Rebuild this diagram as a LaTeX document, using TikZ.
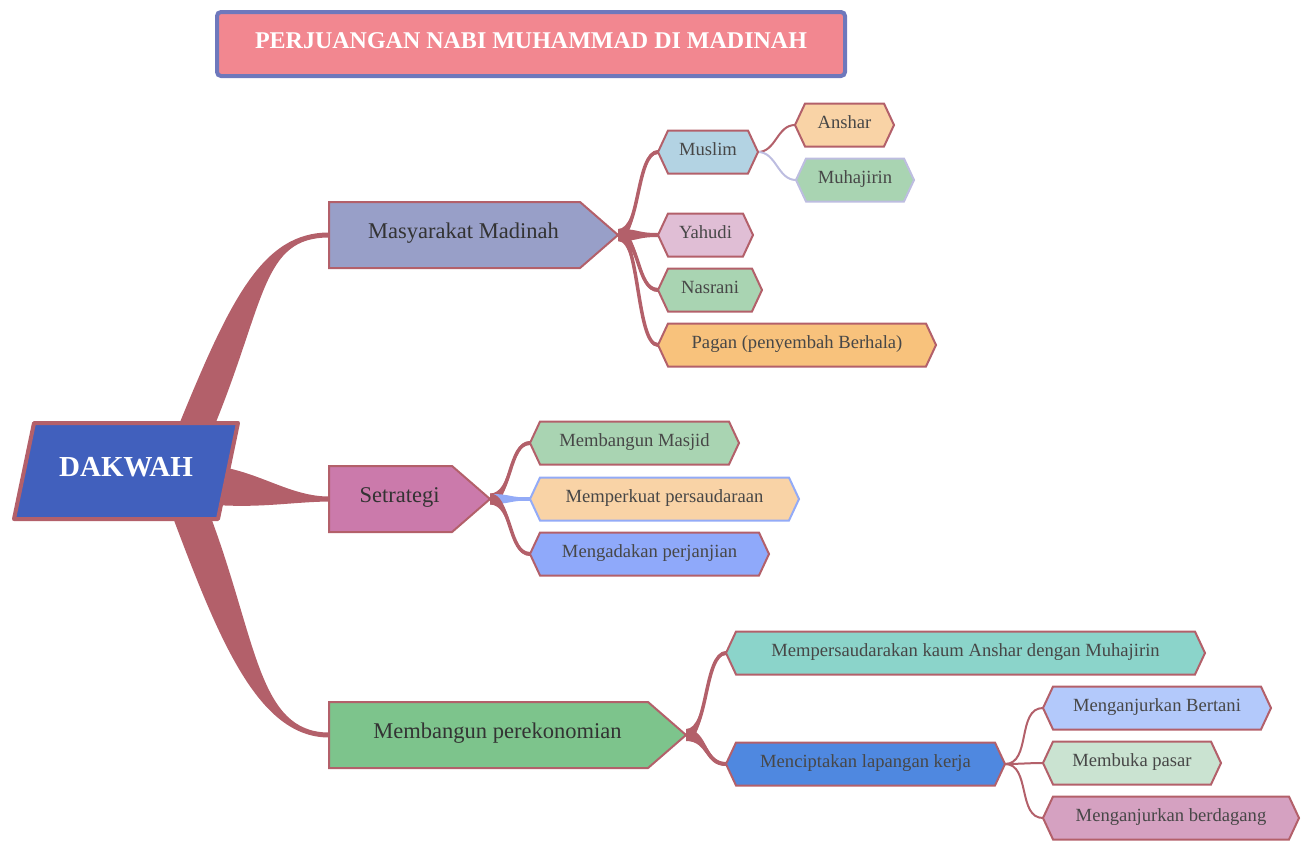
\documentclass[tikz,border=0pt]{standalone}
\usepackage{fontspec}
\setmainfont{Liberation Serif}
\usetikzlibrary{shapes,calc,backgrounds}

\definecolor{linkred}{HTML}{B3606A}
\definecolor{titlefill}{HTML}{F28790}
\definecolor{titleline}{HTML}{6E78BC}
\definecolor{rootfill}{HTML}{4160BD}
\definecolor{masyfill}{HTML}{989FC8}
\definecolor{stratfill}{HTML}{CB7AAB}
\definecolor{ekofill}{HTML}{7DC48C}
\definecolor{bluegrey}{HTML}{B3D3E3}
\definecolor{peach}{HTML}{F9D3A6}
\definecolor{mint}{HTML}{A9D4B2}
\definecolor{lavender}{HTML}{BDBDE0}
\definecolor{pinkish}{HTML}{E0BED5}
\definecolor{amber}{HTML}{F8C27C}
\definecolor{skyline}{HTML}{93ABF7}
\definecolor{cornflower}{HTML}{8FA9FA}
\definecolor{aqua}{HTML}{8BD4CA}
\definecolor{royal}{HTML}{4F88E0}
\definecolor{periwinkle}{HTML}{B3C9FB}
\definecolor{palegreen}{HTML}{CAE3D1}
\definecolor{orchid}{HTML}{D5A1C1}

\tikzstyle{title} = [rectangle, rounded corners=4pt, draw=titleline, line width=4pt, fill=titlefill, minimum width=628pt, minimum height=64pt, text height=17pt, text depth=9pt, text=white, font=\bfseries\fontsize{24}{28}\selectfont]
\tikzstyle{root} = [rectangle, minimum width=224pt, minimum height=96pt, outer sep=0pt, text height=20pt, text depth=10pt, text=white, font=\bfseries\fontsize{29}{34}\selectfont]
\tikzstyle{rootshape} = [draw=linkred, line width=4pt, fill=rootfill, line join=round]
\tikzstyle{topic} = [signal, signal to=east, signal pointer angle=82, draw=linkred, line width=2pt, minimum height=66pt, outer sep=0pt, anchor=west, text height=16pt, text depth=9pt, text=black!80, font=\fontsize{22.5}{26}\selectfont, execute at begin node={\hspace*{18pt}}]
\tikzstyle{leaf} = [signal, signal to=west and east, signal pointer angle=130, draw=linkred, line width=2pt, minimum height=43pt, outer sep=0pt, anchor=west, text height=13pt, text depth=6pt, text=black!72, font=\fontsize{18.6}{22}\selectfont]
\tikzstyle{twig} = [draw=linkred, line width=2pt]

% tapered band: start, control, control, end, offset at start, offset at end
\newcommand{\taper}[7][linkred]{\fill[#1] ($#2+#6$) .. controls ($#3+#6$) and ($#4+#7$) .. ($#5+#7$) -- ($#5-#7$) .. controls ($#4-#7$) and ($#3-#6$) .. ($#2-#6$) -- cycle;}
% horizontal tapered band: start, end, control distance, half width at start, half width at end
\newcommand{\hbranch}[6][linkred]{%
  \fill[#1] ($#2+(0,#5)$) .. controls ($#2+(#4,#5)$) and ($#3+(-#4,#6)$) .. ($#3+(0,#6)$) -- ($#3+(0,-#6)$) .. controls ($#3+(-#4,-#6)$) and ($#2+(#4,-#5)$) .. ($#2+(0,-#5)$) -- cycle;
  \draw[#1, line width=3.5pt] #2 .. controls ($#2+(#4,0)$) and ($#3+(-#4,0)$) .. #3;}

\begin{document}
\begin{tikzpicture}[x=1pt, y=-1pt]
\useasboundingbox (0,0) rectangle (1306,841);

\node[title] (title) at (531,44) {PERJUANGAN NABI MUHAMMAD DI MADINAH};

\node[root] (dakwah) at (126,471) {DAKWAH};

% main topics
\node[topic, fill=masyfill, minimum width=289pt] (masyarakat) at (329,235) {Masyarakat Madinah};
\node[topic, fill=stratfill, minimum width=161pt] (setrategi) at (329,499) {Setrategi};
\node[topic, fill=ekofill, minimum width=357pt] (ekonomi) at (329,735) {Membangun perekonomian};

% masyarakat
\node[leaf, fill=bluegrey, minimum width=100pt] (muslim) at (658,152) {Muslim};
\node[leaf, fill=peach, minimum width=99pt] (anshar) at (795,125) {Anshar};
\node[leaf, fill=mint, draw=lavender, minimum width=118pt] (muhajirin) at (796,180) {Muhajirin};
\node[leaf, fill=pinkish, minimum width=95pt] (yahudi) at (658,235) {Yahudi};
\node[leaf, fill=mint, minimum width=104pt] (nasrani) at (658,290) {Nasrani};
\node[leaf, fill=amber, minimum width=278pt] (pagan) at (658,345) {Pagan (penyembah Berhala)};

% setrategi
\node[leaf, fill=mint, minimum width=209pt] (masjid) at (530,443) {Membangun Masjid};
\node[leaf, fill=peach, draw=skyline, minimum width=269pt] (perkuat) at (530,499) {Memperkuat persaudaraan};
\node[leaf, fill=cornflower, minimum width=239pt] (perjanjian) at (530,554) {Mengadakan perjanjian};

% perekonomian
\node[leaf, fill=aqua, minimum width=479pt] (saudara) at (726,653) {Mempersaudarakan kaum Anshar dengan Muhajirin};
\node[leaf, fill=royal, minimum width=279pt] (kerja) at (726,764) {Menciptakan lapangan kerja};
\node[leaf, fill=periwinkle, minimum width=228pt] (bertani) at (1043,708) {Menganjurkan Bertani};
\node[leaf, fill=palegreen, minimum width=178pt] (pasar) at (1043,763) {Membuka pasar};
\node[leaf, fill=orchid, minimum width=256pt] (berdagang) at (1043,818) {Menganjurkan berdagang};

\begin{scope}[on background layer]
\coordinate (upfoot) at ($(dakwah.north)+(70,4)$);
\coordinate (lowfoot) at ($(dakwah.south)+(65,-4)$);
\taper{(upfoot)}{(248,300)}{(262,235)}{(masyarakat.west)}{(18,0)}{(0,2.5)}
\taper{(lowfoot)}{(238,640)}{(258,735)}{(ekonomi.west)}{(19,0)}{(0,-2.5)}
\fill[linkred] ($(dakwah.east)+(-16,-4)$) .. controls (262,474) and (292,496.5) .. ($(setrategi.west)+(0,-2.5)$) -- ($(setrategi.west)+(0,2.5)$) .. controls (292,502) and (262,508) .. ($(dakwah.east)+(-22,34)$) -- cycle;

% the slanted box of the root, over the feet of its branches
\draw[rootshape] ($(dakwah.north west)+(20,0)$) -- (dakwah.north east) -- ($(dakwah.south east)+(-20,0)$) -- (dakwah.south west) -- cycle;

\hbranch{(masyarakat.east)}{(muslim.west)}{22}{6}{2}
\hbranch{(masyarakat.east)}{(yahudi.west)}{22}{6}{2}
\hbranch{(masyarakat.east)}{(nasrani.west)}{22}{6}{2}
\hbranch{(masyarakat.east)}{(pagan.west)}{22}{6}{2}

\hbranch{(setrategi.east)}{(masjid.west)}{22}{5.5}{2}
\hbranch[skyline]{(setrategi.east)}{(perkuat.west)}{22}{5}{1.5}
\hbranch{(setrategi.east)}{(perjanjian.west)}{22}{5.5}{2}

\hbranch{(ekonomi.east)}{(saudara.west)}{22}{6}{2}
\hbranch{(ekonomi.east)}{(kerja.west)}{22}{6}{2}

\path[twig] (muslim.east) to[out=0,in=180] (anshar.west);
\path[twig, draw=lavender] (muslim.east) to[out=0,in=180] (muhajirin.west);
\path[twig] (kerja.east) to[out=0,in=180] (bertani.west);
\path[twig] (kerja.east) to[out=0,in=180] (pasar.west);
\path[twig] (kerja.east) to[out=0,in=180] (berdagang.west);
\end{scope}
\end{tikzpicture}
\end{document}
